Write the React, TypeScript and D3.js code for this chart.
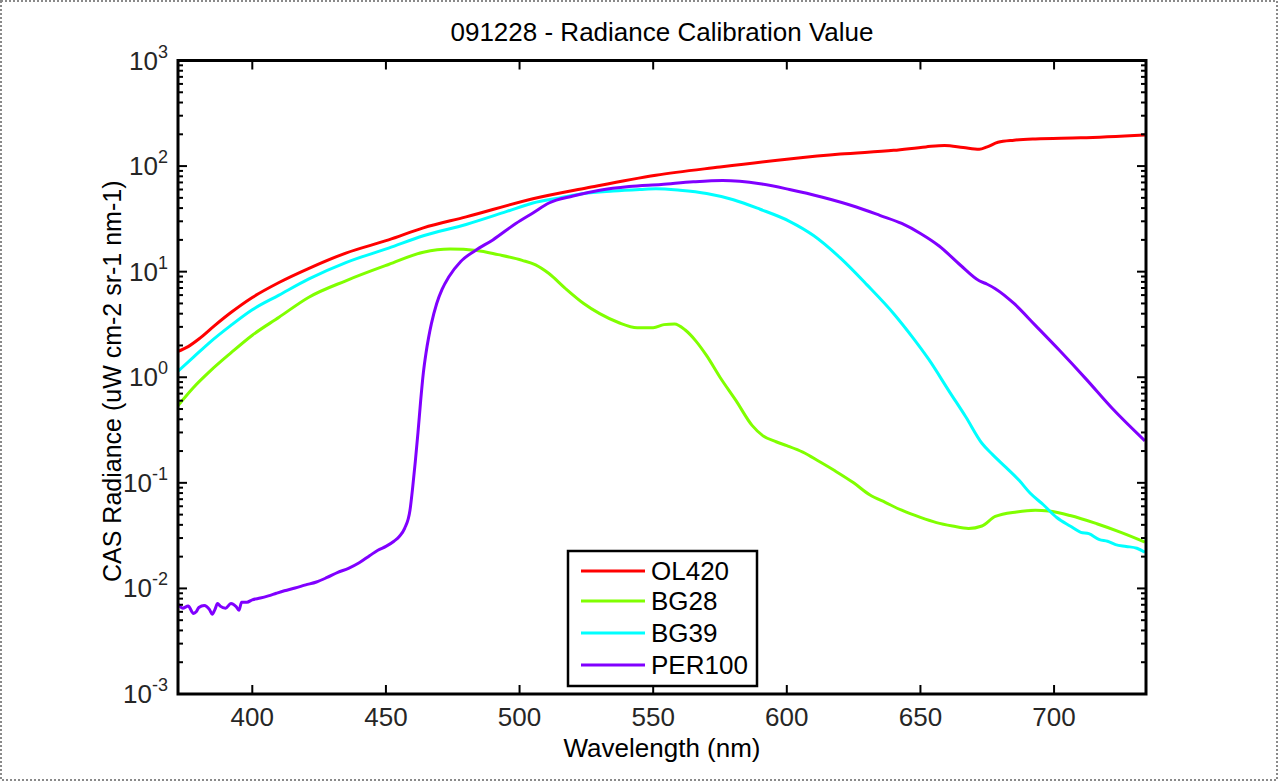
import React from "react";
import * as d3 from "d3";

const TITLE = "091228 - Radiance Calibration Value";
const X_LABEL = "Wavelength (nm)";
const Y_LABEL = "CAS Radiance (uW cm-2 sr-1 nm-1)";
const X_TICKS = [400, 450, 500, 550, 600, 650, 700];
const Y_EXPONENTS = [-3, -2, -1, 0, 1, 2, 3];
const SERIES_NAMES = ["OL420", "BG28", "BG39", "PER100"];
const SERIES_COLORS = ["#ff0000", "#80ff00", "#00ffff", "#8000ff"];

const OL420_W = [372, 376, 380, 386, 392, 400, 410, 421, 435, 451, 464, 480, 505, 525, 551, 575, 600, 620, 640, 652, 659, 666, 672, 675, 679, 685, 693, 710, 734];
const OL420_V = [1.75, 1.95, 2.3, 3.1, 4.1, 5.7, 7.9, 10.7, 15, 20, 26, 33, 49, 62, 82, 98, 116, 130, 141, 152, 157, 150, 144, 152, 168, 176, 181, 185, 197];

const BG28_W = [372, 378, 384, 392, 400, 410, 421, 435, 451, 464, 474, 484, 492, 501, 506, 511, 517, 524, 530, 537, 544, 550, 554, 558, 562, 566, 570, 575, 581, 587, 591, 596, 600, 606, 612, 618, 625, 631, 637, 643, 650, 656, 662, 668, 673, 678, 686, 693, 698, 706, 716, 725, 734];
const BG28_V = [0.53, 0.8, 1.13, 1.7, 2.5, 3.7, 5.7, 8.2, 11.7, 15.3, 16.4, 15.9, 14.5, 12.8, 11.6, 9.6, 7.0, 5.0, 4.0, 3.3, 2.95, 2.95, 3.15, 3.2, 2.8, 2.2, 1.6, 1.0, 0.6, 0.35, 0.28, 0.245, 0.225, 0.195, 0.16, 0.13, 0.1, 0.077, 0.065, 0.055, 0.047, 0.042, 0.039, 0.037, 0.039, 0.048, 0.053, 0.055, 0.054, 0.049, 0.041, 0.034, 0.0275];

const BG39_W = [372, 378, 384, 392, 400, 410, 421, 435, 451, 464, 480, 495, 505, 515, 524, 535, 545, 551, 560, 570, 580, 590, 601, 610, 620, 630, 640, 647, 653, 661, 667, 673, 677, 682, 687, 691, 696, 701, 706, 710, 713, 717, 720, 723, 727, 731, 734];
const BG39_V = [1.13, 1.55, 2.13, 3.1, 4.36, 6.0, 8.5, 12.2, 16.7, 21.9, 28, 37, 44.7, 50, 55, 58, 60, 61, 59, 55, 48, 39, 30, 22, 13.5, 7.5, 4.0, 2.4, 1.49, 0.72, 0.42, 0.237, 0.185, 0.14, 0.105, 0.08, 0.062, 0.047, 0.039, 0.034, 0.033, 0.029, 0.028, 0.026, 0.025, 0.024, 0.022];

const PER100_W = [372, 374, 376, 378, 379, 380, 382, 384, 385, 386, 387, 388, 390, 392, 394, 395, 396, 398, 400, 403, 406, 409, 412, 416, 420, 424, 428, 432, 436, 440, 444, 447, 450, 453, 455, 457, 459, 460, 461, 462, 463, 464, 465, 466, 467, 469, 471, 473.5, 478, 483.5, 490, 498.6, 505, 511, 520, 530, 541, 553, 565, 576, 590, 601, 613, 626, 635, 643, 650, 657, 665, 672, 675, 678, 685, 693, 702, 712, 722, 734];
const PER100_V = [0.0072, 0.0065, 0.0068, 0.0058, 0.006, 0.0066, 0.0069, 0.0063, 0.0057, 0.0063, 0.0072, 0.0068, 0.0065, 0.0072, 0.0067, 0.0062, 0.0074, 0.0074, 0.0078, 0.0081, 0.0085, 0.009, 0.0095, 0.0101, 0.0108, 0.0115, 0.0127, 0.0142, 0.0155, 0.0175, 0.0205, 0.023, 0.025, 0.028, 0.031, 0.037, 0.055, 0.09, 0.16, 0.3, 0.6, 1.1, 1.7, 2.4, 3.2, 5.0, 6.8, 8.9, 12.5, 15.9, 20, 28.6, 36, 44.7, 52, 59, 64, 67, 71, 73, 68, 60, 51, 41, 34, 28.6, 23, 17.5, 11.5, 8.2, 7.6, 6.9, 5, 3.1, 1.8, 0.96, 0.5, 0.25];

const SERIES_W = [OL420_W, BG28_W, BG39_W, PER100_W];
const SERIES_V = [OL420_V, BG28_V, BG39_V, PER100_V];

const FONT = "'Liberation Sans', Arial, Helvetica, sans-serif";

export default function App() {
  const left = 178, right = 1146, top = 60.5, bottom = 694;
  const x = d3.scaleLinear().domain([372.2, 734.4]).range([left, right]);
  const y = d3.scaleLog().domain([1e-3, 1e3]).range([bottom, top]);
  const line = d3
    .line<[number, number]>()
    .x((d) => x(d[0]))
    .y((d) => y(d[1]))
    .curve(d3.curveMonotoneX);

  const minor: number[] = [];
  for (let e = -3; e < 3; e++) {
    for (let m = 2; m <= 9; m++) minor.push(m * Math.pow(10, e));
  }

  const legendX = 568, legendY = 551, legendW = 189, legendH = 135;
  const rowYs = [571, 601, 633, 665];

  return (
    <svg
      width={1279}
      height={782}
      style={{ position: "absolute", left: 0, top: 0, background: "#fff" }}
      fontFamily={FONT}
    >
      <rect x={0} y={0} width={1279} height={782} fill="#fff" />
      <rect
        x={1}
        y={1}
        width={1276}
        height={779}
        fill="none"
        stroke="#8a8a8a"
        strokeWidth={2}
        strokeDasharray="2 2"
      />
      <defs>
        <clipPath id="plotclip">
          <rect x={left} y={top} width={right - left} height={bottom - top} />
        </clipPath>
      </defs>
      <g clipPath="url(#plotclip)">
        {SERIES_NAMES.map((name, i) => (
          <path
            key={name}
            d={line(SERIES_W[i].map((w, j) => [w, SERIES_V[i][j]] as [number, number])) || ""}
            fill="none"
            stroke={SERIES_COLORS[i]}
            strokeWidth={3}
            strokeLinejoin="round"
          />
        ))}
      </g>
      {/* ticks */}
      <g stroke="#000" strokeWidth={2}>
        {X_TICKS.map((t) => (
          <g key={"xt" + t}>
            <line x1={x(t)} x2={x(t)} y1={bottom} y2={bottom - 9} />
            <line x1={x(t)} x2={x(t)} y1={top} y2={top + 9} />
          </g>
        ))}
        {Y_EXPONENTS.map((e) => (
          <g key={"yt" + e}>
            <line x1={left} x2={left + 9} y1={y(Math.pow(10, e))} y2={y(Math.pow(10, e))} />
            <line x1={right} x2={right - 9} y1={y(Math.pow(10, e))} y2={y(Math.pow(10, e))} />
          </g>
        ))}
        {minor.map((v, i) => (
          <g key={"ym" + i}>
            <line x1={left} x2={left + 5} y1={y(v)} y2={y(v)} />
            <line x1={right} x2={right - 5} y1={y(v)} y2={y(v)} />
          </g>
        ))}
      </g>
      <rect
        x={left}
        y={top}
        width={right - left}
        height={bottom - top}
        fill="none"
        stroke="#000"
        strokeWidth={3}
      />
      {/* tick labels */}
      <g fontSize={26} fill="#262626">
        {X_TICKS.map((t) => (
          <text key={"xl" + t} x={x(t)} y={726} textAnchor="middle">
            {t}
          </text>
        ))}
        {Y_EXPONENTS.map((e) => (
          <text key={"yl" + e} x={168} y={y(Math.pow(10, e)) + 9} textAnchor="end">
            <tspan>10</tspan>
            <tspan fontSize={18} dy={-12}>
              {String(e)}
            </tspan>
          </text>
        ))}
      </g>
      <text x={662} y={41} textAnchor="middle" fontSize={26} fill="#000">
        {TITLE}
      </text>
      <text x={662} y={757} textAnchor="middle" fontSize={26} fill="#000">
        {X_LABEL}
      </text>
      <text
        transform={`translate(121, ${(top + bottom) / 2 + 4}) rotate(-90)`}
        textAnchor="middle"
        fontSize={25}
        fill="#000"
      >
        {Y_LABEL}
      </text>
      {/* legend */}
      <rect
        x={legendX}
        y={legendY}
        width={legendW}
        height={legendH}
        fill="#fff"
        stroke="#000"
        strokeWidth={2.5}
      />
      {SERIES_NAMES.map((name, i) => (
        <g key={"lg" + name}>
          <line
            x1={581}
            x2={645}
            y1={rowYs[i]}
            y2={rowYs[i]}
            stroke={SERIES_COLORS[i]}
            strokeWidth={3}
          />
          <text x={651} y={rowYs[i] + 9} fontSize={26} fill="#000">
            {name}
          </text>
        </g>
      ))}
    </svg>
  );
}
